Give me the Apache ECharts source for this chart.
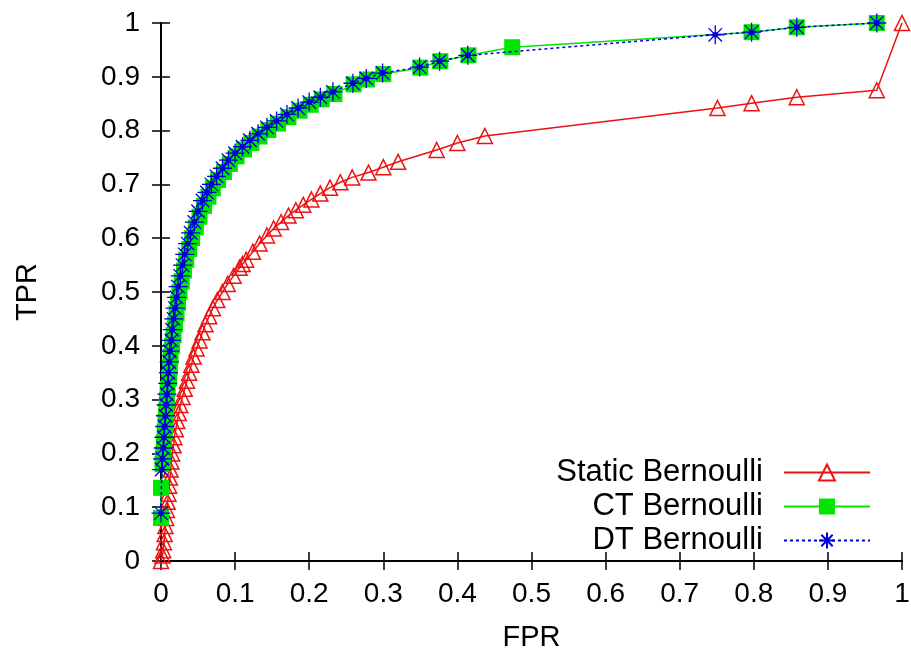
<!DOCTYPE html>
<html>
<head>
<meta charset="utf-8">
<script src="https://cdn.jsdelivr.net/npm/echarts@6/dist/echarts.min.js"></script>
<style>
html,body{margin:0;padding:0;background:#fff;}
#chart{width:911px;height:653px;}
</style>
</head>
<body>
<div id="chart"></div>
<script>
// Series names
const seriesNames = ['Static Bernoulli', 'CT Bernoulli', 'DT Bernoulli'];

// Tick labels
const xTickLabels = ['0','0.1','0.2','0.3','0.4','0.5','0.6','0.7','0.8','0.9','1'];
const yTickLabels = ['0','0.1','0.2','0.3','0.4','0.5','0.6','0.7','0.8','0.9','1'];

// Static Bernoulli: [FPR, TPR]
const staticFPR = [0,0.002,0.003,0.004,0.005,0.006,0.007,0.008,0.009,0.010,0.011,0.012,0.013,0.014,0.015,0.017,0.018,0.020,0.022,0.024,0.026,0.029,0.032,0.035,0.038,0.041,0.044,0.048,0.052,0.056,0.060,0.065,0.070,0.076,0.083,0.090,0.098,0.106,0.110,0.115,0.124,0.133,0.143,0.152,0.162,0.172,0.182,0.192,0.203,0.215,0.228,0.242,0.258,0.280,0.300,0.320,0.372,0.400,0.437,0.751,0.797,0.858,0.966,1.0];
const staticTPR = [0,0.010,0.020,0.035,0.050,0.065,0.080,0.095,0.110,0.125,0.140,0.155,0.170,0.185,0.200,0.215,0.230,0.245,0.260,0.275,0.290,0.305,0.320,0.335,0.350,0.365,0.380,0.395,0.410,0.425,0.440,0.455,0.470,0.485,0.500,0.515,0.530,0.545,0.552,0.560,0.575,0.590,0.605,0.618,0.630,0.642,0.652,0.662,0.672,0.683,0.694,0.704,0.713,0.722,0.732,0.742,0.764,0.777,0.790,0.842,0.851,0.862,0.875,1.0];

// CT Bernoulli
const ctFPR = [0,0,0.002,0.003,0.004,0.005,0.006,0.007,0.008,0.009,0.011,0.012,0.013,0.015,0.017,0.019,0.021,0.023,0.025,0.028,0.031,0.034,0.038,0.042,0.047,0.052,0.058,0.064,0.070,0.077,0.085,0.093,0.102,0.112,0.122,0.133,0.145,0.158,0.172,0.187,0.202,0.217,0.234,0.260,0.278,0.300,0.350,0.377,0.415,0.474,0.797,0.858,0.966];
const ctTPR = [0.080,0.136,0.180,0.200,0.220,0.240,0.260,0.280,0.300,0.320,0.340,0.360,0.380,0.400,0.420,0.440,0.460,0.480,0.500,0.520,0.540,0.560,0.580,0.600,0.620,0.640,0.660,0.677,0.693,0.708,0.723,0.738,0.752,0.765,0.777,0.789,0.801,0.813,0.825,0.837,0.848,0.858,0.868,0.886,0.895,0.905,0.917,0.929,0.940,0.955,0.983,0.992,1.0];

// DT Bernoulli
const dtFPR = [0,0.001,0.002,0.003,0.004,0.005,0.006,0.007,0.008,0.009,0.010,0.011,0.012,0.014,0.015,0.017,0.019,0.021,0.023,0.026,0.029,0.032,0.036,0.040,0.045,0.050,0.056,0.062,0.068,0.075,0.083,0.091,0.100,0.110,0.120,0.131,0.143,0.156,0.170,0.185,0.200,0.215,0.232,0.259,0.277,0.299,0.349,0.376,0.414,0.748,0.797,0.858,0.966];
const dtTPR = [0.089,0.170,0.190,0.210,0.230,0.250,0.270,0.290,0.310,0.330,0.350,0.370,0.390,0.410,0.430,0.450,0.470,0.490,0.510,0.530,0.550,0.570,0.590,0.610,0.630,0.650,0.670,0.685,0.700,0.715,0.730,0.745,0.758,0.770,0.782,0.794,0.806,0.818,0.830,0.842,0.853,0.862,0.872,0.888,0.897,0.907,0.918,0.929,0.940,0.978,0.983,0.992,1.0];

function zip(a, b) { return a.map((v, i) => [v, b[i]]); }

const RED = '#ee1111', GREEN = '#00e600', BLUE = '#0000dd';
const FONT = 'Liberation Sans';
const starPath = 'path://M10,0L10,20M0,10L20,10M2.9,2.9L17.1,17.1M2.9,17.1L17.1,2.9M10,7.6A2.4,2.4 0 1 1 9.99,7.6Z';

const tickCommon = { show: true, inside: true, length: 9, lineStyle: { color: '#000', width: 1.5 } };
const lineCommon = { show: true, lineStyle: { color: '#000', width: 2 } };

const chart = echarts.init(document.getElementById('chart'), null, { renderer: 'canvas' });
chart.setOption({
  animation: false,
  backgroundColor: '#fff',
  grid: { left: 161, right: 9, top: 23, bottom: 92, containLabel: false, outerBoundsMode: 'none' },
  legend: {
    orient: 'vertical',
    align: 'right',
    right: 35,
    top: 452,
    itemWidth: 86,
    itemHeight: 20,
    itemGap: 3,
    selectedMode: false,
    textStyle: { fontFamily: FONT, fontSize: 31, color: '#000', lineHeight: 30, padding: [0, 16, 0, 0] },
    data: seriesNames
  },
  xAxis: [
    {
      type: 'value', position: 'bottom', min: 0, max: 1, interval: 0.1,
      axisLine: lineCommon, axisTick: tickCommon, splitLine: { show: false },
      axisLabel: { margin: 19, fontFamily: FONT, fontSize: 28, color: '#000',
        formatter: v => xTickLabels[Math.round(v * 10)] },
      name: 'FPR', nameLocation: 'middle', nameGap: 62,
      nameTextStyle: { fontFamily: FONT, fontSize: 29, color: '#000' }
    },
    {
      type: 'value', position: 'top', min: 0, max: 1, interval: 0.1,
      axisLine: lineCommon, axisTick: tickCommon, splitLine: { show: false },
      axisLabel: { show: false }
    }
  ],
  yAxis: [
    {
      type: 'value', position: 'left', min: 0, max: 1, interval: 0.1,
      axisLine: lineCommon, axisTick: tickCommon, splitLine: { show: false },
      axisLabel: { margin: 21, fontFamily: FONT, fontSize: 28, color: '#000',
        formatter: v => yTickLabels[Math.round(v * 10)] },
      name: 'TPR', nameLocation: 'middle', nameGap: 119, nameRotate: 90,
      nameTextStyle: { fontFamily: FONT, fontSize: 29, color: '#000' }
    },
    {
      type: 'value', position: 'right', min: 0, max: 1, interval: 0.1,
      axisLine: lineCommon, axisTick: tickCommon, splitLine: { show: false },
      axisLabel: { show: false }
    }
  ],
  series: [
    {
      name: seriesNames[0], type: 'line', xAxisIndex: 0, yAxisIndex: 0,
      data: zip(staticFPR, staticTPR), clip: false,
      symbol: 'triangle', symbolSize: 15,
      itemStyle: { color: 'rgba(255,255,255,0)', borderColor: RED, borderWidth: 1.5 },
      lineStyle: { color: RED, width: 1.5 },
      emphasis: { disabled: true }, z: 2
    },
    {
      name: seriesNames[1], type: 'line', xAxisIndex: 0, yAxisIndex: 0,
      data: zip(ctFPR, ctTPR), clip: false,
      symbol: 'rect', symbolSize: 16,
      itemStyle: { color: GREEN, borderWidth: 0 },
      lineStyle: { color: GREEN, width: 1.5 },
      emphasis: { disabled: true }, z: 3
    },
    {
      name: seriesNames[2], type: 'line', xAxisIndex: 0, yAxisIndex: 0,
      data: zip(dtFPR, dtTPR), clip: false,
      symbol: starPath, symbolSize: 19,
      itemStyle: { color: BLUE, borderColor: BLUE, borderWidth: 1.3 },
      lineStyle: { color: BLUE, width: 1.5, type: [3, 3] },
      emphasis: { disabled: true }, z: 4
    }
  ]
});
</script>
</body>
</html>
